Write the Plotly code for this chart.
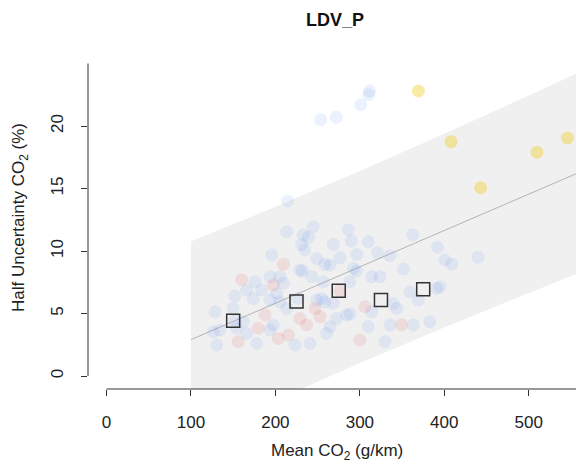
import plotly.graph_objects as go

# ---- data ----
blue_x = [253.6, 272, 301, 310.5, 311.5, 214.5,
          213.4, 244.9, 233, 239, 231, 235, 268.6, 286.3, 290, 310, 362.5, 392, 440,
          195.6, 249, 258.7, 264.6, 276.5, 296.3, 229, 232, 292.2, 296.3, 321, 335.7, 351.5, 400.7, 408.7,
          193.6, 205.4, 243, 314, 323.8, 175.8, 209.4, 288.3, 256.7, 391, 395, 359.4, 183.8, 166, 201.5,
          152, 173.8, 193.6, 227, 254.8, 248.9, 258.7, 268.6, 205.4, 369.2, 339.6, 213.4, 150, 343.6,
          128.5, 314, 288.3, 284.4, 272.6, 152.2, 162, 383, 197.5, 363.3, 335.7, 264.6, 310, 154,
          193.6, 134.4, 126.5, 166, 260.7, 329.8, 177.9, 241, 223.2, 130.5]
blue_y = [20.5, 20.7, 21.7, 22.5, 22.8, 14.0,
          11.55, 11.95, 11.28, 11.1, 10.5, 10.1, 10.53, 11.68, 10.8, 10.74, 11.3, 10.3, 9.5,
          9.68, 9.4, 8.93, 8.88, 9.47, 9.73, 8.48, 8.4, 8.6, 8.4, 9.87, 9.63, 8.56, 9.28, 8.94,
          7.94, 7.94, 7.94, 7.94, 7.94, 7.55, 7.42, 7.55, 7.54, 7.0, 7.14, 6.74, 6.88, 6.88, 6.6,
          6.4, 6.2, 6.08, 6.2, 6.2, 6.08, 5.94, 5.82, 5.94, 6.08, 5.8, 5.4, 5.4, 5.4,
          5.14, 5.14, 4.96, 4.88, 4.6, 4.43, 4.35, 4.35, 4.08, 4.08, 4.08, 3.94, 3.94, 3.82,
          3.68, 3.68, 3.54, 3.4, 3.4, 2.74, 2.6, 2.6, 2.48, 2.48]

red_x = [160, 197.5, 209.4, 276.5, 306, 246.9, 252.8, 229, 237, 187.7, 179.8, 203.5, 215.3, 156, 300, 349.5]
red_y = [7.7, 7.28, 8.95, 6.8, 5.54, 5.4, 4.75, 4.6, 4.08, 4.88, 3.82, 3.0, 3.28, 2.74, 2.88, 4.1]

yellow_x = [369.3, 408, 443, 509.8, 545.7]
yellow_y = [22.8, 18.75, 15.06, 17.9, 19.04]

bin_x = [150, 225, 275, 325, 375]
bin_y = [4.42, 5.96, 6.82, 6.08, 6.94]

fit_x = [100, 600]
fit_y = [2.91, 17.46]

band_x = [100, 200, 300, 400, 500, 600]
band_upper = [10.76, 13.54, 16.41, 19.39, 22.45, 25.56]
band_lower = [-4.94, -1.90, 1.05, 3.89, 6.65, 9.36]

x_ticks = [0, 100, 200, 300, 400, 500]
y_ticks = [0, 5, 10, 15, 20]

FONT = "Liberation Sans, Arial, sans-serif"
W, H = 576, 455   # page body has an 8px margin

fig = go.Figure()

fig.add_trace(go.Scatter(
    x=band_x + band_x[::-1], y=band_upper + band_lower[::-1],
    fill="toself", fillcolor="#f0f0f0", mode="lines",
    line=dict(width=0), hoverinfo="skip", showlegend=False))

fig.add_trace(go.Scatter(
    x=fit_x, y=fit_y, mode="lines",
    line=dict(color="#b4b4b4", width=1), showlegend=False))

fig.add_trace(go.Scatter(
    x=blue_x, y=blue_y, mode="markers",
    marker=dict(size=13, color="rgba(100,149,237,0.13)", line=dict(width=0)),
    showlegend=False))

fig.add_trace(go.Scatter(
    x=red_x, y=red_y, mode="markers",
    marker=dict(size=13, color="rgba(225,90,90,0.14)", line=dict(width=0)),
    showlegend=False))

fig.add_trace(go.Scatter(
    x=yellow_x, y=yellow_y, mode="markers",
    marker=dict(size=13, color="rgba(240,205,40,0.42)", line=dict(width=0)),
    showlegend=False))

fig.add_trace(go.Scatter(
    x=bin_x, y=bin_y, mode="markers",
    marker=dict(size=13, symbol="square-open", color="#333333", line=dict(width=1.5)),
    showlegend=False))

fig.update_layout(
    width=W, height=H,
    margin=dict(l=80, r=0, t=30, b=74, autoexpand=False),
    paper_bgcolor="white", plot_bgcolor="white",
    font=dict(family=FONT, size=17, color="#222222"),
    title=dict(text="<b>LDV_P</b>", x=327 / W, xanchor="center",
               y=1 - 12 / H, yanchor="middle",
               font=dict(family=FONT, size=18, color="#111111")),
    xaxis=dict(range=[-21.9, 565.4], tickvals=x_ticks, ticks="outside", ticklen=6,
               tickcolor="#333333", showgrid=False, zeroline=False, showline=False,
               ticklabelstandoff=12, automargin=False),
    yaxis=dict(range=[-1.04, 27.04], tickvals=y_ticks, ticks="outside", ticklen=6,
               tickcolor="#333333", showgrid=False, zeroline=False, showline=False,
               tickangle=-90, ticklabelstandoff=11, automargin=False),
    shapes=[
        dict(type="line", xref="x", yref="paper", x0=0, x1=565.4, y0=0, y1=0,
             line=dict(color="#333333", width=1)),
        dict(type="line", xref="paper", yref="y", x0=0, x1=0, y0=0, y1=25,
             line=dict(color="#333333", width=1)),
    ],
    annotations=[
        dict(text="Mean CO<sub>2</sub> (g/km)", xref="paper", yref="paper",
             x=(337 - 88) / 496, y=(389 - 452) / 351, xanchor="center", yanchor="middle",
             showarrow=False, font=dict(family=FONT, size=17, color="#222222")),
        dict(text="Half Uncertainty CO<sub>2</sub> (%)", xref="paper", yref="paper",
             x=(20 - 88) / 496, y=(389 - 218) / 351, xanchor="center", yanchor="middle",
             textangle=-90, showarrow=False, font=dict(family=FONT, size=17, color="#222222")),
    ],
)

fig.write_html("out.html")
